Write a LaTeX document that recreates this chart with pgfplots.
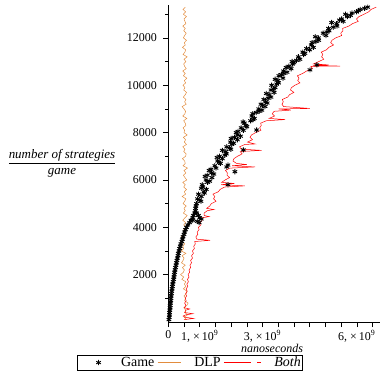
\documentclass[border=0pt]{standalone}
\usepackage{fontspec}
\setmainfont{Liberation Serif}
\usepackage{pgfplots}
\pgfplotsset{compat=1.18}
\definecolor{dlp}{RGB}{226,140,62}
\pgfplotsset{
  gameleg/.style={legend image code/.code={\path[draw=none,fill=none] (0bp,0bp) rectangle (30bp,0.1bp); \path[##1, draw=none] plot[only marks, mark=asterisk, mark options={draw=black, line width=0.9pt}] coordinates {(21bp,0bp)};}},
  dlpleg/.style={legend image code/.code={\draw[##1] (0bp,0bp) -- (23bp,0bp);}},
  bothleg/.style={legend image code/.code={\draw[##1] (0bp,0bp) -- (26.7bp,0bp); \draw[##1] (33.3bp,0bp) -- (36.7bp,0bp);}},
}
\begin{document}
\begin{tikzpicture}
\path[use as bounding box] (0,0) rectangle (381bp,386bp);
\node at (62bp,223bp) {\fontsize{13}{15}\selectfont$\displaystyle\frac{\mbox{\itshape number of strategies}}{\mbox{\itshape game}}$};
\begin{axis}[
  at={(168.3bp,64bp)}, anchor=south west,
  scale only axis, width=211.7bp, height=317bp,
  xmin=0, xmax=6.74, ymin=0, ymax=13390,
  axis x line=bottom, axis y line=left,
  axis line style={-, line width=0.5pt},
  tick align=outside, clip=false,
  tick style={line width=0.5pt, black},
  major tick length=5bp, minor tick length=3bp,
  xtick={0,0.5,1,1.5,2,2.5,3,3.5,4,4.5,5,5.5,6,6.5},
  xticklabels={0,,{1, ×\,10\textsuperscript{9}},,,,{3, ×\,10\textsuperscript{9}},,,,,,{6, ×\,10\textsuperscript{9}},},
  ytick={2000,4000,6000,8000,10000,12000},
  minor ytick={1000,3000,5000,7000,9000,11000,13000},
  scaled y ticks=false,
  /pgf/number format/assume math mode=true,
  /pgf/number format/1000 sep={},
  ticklabel style={font=\fontsize{12}{14}\selectfont},
  yticklabel style={xshift=-3bp},
  xlabel={\itshape nanoseconds},
  xlabel style={at={(axis description cs:0.49,0)}, anchor=base, yshift=-30.5bp, font=\fontsize{12}{14}\selectfont},
  legend columns=3,
  legend style={at={(-0.4299,-0.128)}, anchor=west, draw=black, line width=0.5pt,
    font=\fontsize{14}{16}\selectfont, inner xsep=0bp, inner ysep=0.3bp,
    nodes={inner sep=1.5bp},
    /tikz/every odd column/.append style={column sep=12bp},
    /tikz/every even column/.append style={column sep=1.5bp}},
]
\addplot[only marks, mark=asterisk, mark size=2.6bp, mark options={line width=0.9pt}, black, gameleg]
table {
0.02 100
0.03 200
0.04 300
0.04 400
0.05 500
0.06 600
0.06 700
0.07 800
0.08 900
0.08 1000
0.09 1100
0.10 1200
0.11 1300
0.12 1400
0.13 1500
0.14 1600
0.155 1700
0.17 1800
0.18 1900
0.19 2000
0.20 2100
0.215 2200
0.23 2300
0.245 2400
0.26 2500
0.275 2600
0.29 2700
0.31 2800
0.32 2900
0.34 3000
0.36 3100
0.38 3200
0.40 3300
0.43 3400
0.45 3500
0.47 3600
0.50 3700
0.52 3800
0.55 3900
0.58 4000
0.62 4100
0.68 4200
0.72 4300
0.78 4400
0.80 4500
0.84 4600
0.86 4700
0.87 4800
0.88 4900
0.90 5000
1.04 5100
0.93 5200
1.05 5300
0.96 5400
1.13 5500
1.21 5600
1.10 5700
1.08 5800
1.25 5900
1.20 6000
1.39 6100
1.24 6200
1.38 6300
1.30 6400
1.52 6500
1.48 6600
1.66 6700
1.57 6800
1.72 6900
1.63 7000
1.85 7100
1.83 7200
1.99 7300
1.86 7400
2.02 7500
1.98 7600
2.20 7700
2.11 7800
2.21 7900
2.16 8000
2.39 8100
2.32 8200
2.47 8300
2.42 8400
2.62 8500
2.74 8600
2.66 8700
2.69 8800
2.89 8900
2.88 9000
3.08 9100
2.95 9200
3.10 9300
3.04 9400
3.27 9500
3.21 9600
3.37 9700
3.27 9800
3.40 9900
3.29 10000
3.51 10100
3.49 10200
3.65 10300
3.52 10400
3.68 10500
3.67 10600
3.91 10700
3.84 10800
3.96 10900
3.94 11000
4.19 11100
4.14 11200
4.31 11300
4.28 11400
4.50 11500
4.62 11600
4.55 11700
4.58 11800
4.79 11900
4.78 12000
5.02 12100
4.93 12200
5.12 12300
5.10 12400
5.37 12500
5.36 12600
5.57 12700
5.52 12800
5.70 12900
5.64 13000
5.99 13100
6.11 13200
6.35 13300
1.90 5800
1.86 6550
2.12 6350
1.90 6630
2.81 8110
2.39 7270
4.51 10650
4.73 10860
1.00 5150
1.15 5450
1.05 5650
1.32 5950
1.17 6150
1.45 6250
1.36 6450
1.62 6750
1.55 6950
1.80 7050
1.72 7250
1.95 7350
2.08 7550
2.00 7750
2.30 7850
2.22 8050
2.50 8250
2.38 8450
2.70 8550
2.80 8850
2.98 8950
3.00 9150
3.15 9250
3.18 9450
3.12 9650
3.35 9850
3.45 10050
3.40 10250
3.60 10450
3.78 10550
3.75 10750
4.00 10950
4.08 11050
4.35 11350
4.40 11550
4.70 11850
4.68 12050
5.05 12250
5.25 12450
5.20 12650
5.45 12750
5.80 12950
5.85 13050
6.25 13250
6.05 13150
0.92 4250
1.00 4400
0.96 4500
1.05 4350
0.90 4600
0.98 4200
0.78 4300
};
\addlegendentry{Game}
\addplot[dlp, line width=0.5pt, no marks, dlpleg]
table {
0.58 100
0.51 200
0.61 300
0.53 400
0.56 500
0.49 600
0.59 700
0.63 800
0.52 900
0.55 1000
0.50 1100
0.57 1200
0.60 1300
0.48 1400
0.56 1500
0.51 1600
0.56 1700
0.43 1800
0.49 1900
0.39 2000
0.48 2100
0.51 2200
0.45 2300
0.54 2400
0.42 2500
0.47 2600
0.50 2700
0.44 2800
0.56 2900
0.41 3000
0.49 3100
0.46 3200
0.52 3300
0.43 3400
0.48 3500
0.41 3600
0.53 3700
0.50 3800
0.49 3900
0.58 4000
0.49 4100
0.55 4200
0.46 4300
0.53 4400
0.60 4500
0.48 4600
0.54 4700
0.50 4800
0.57 4900
0.47 5000
0.52 5100
0.56 5200
0.44 5300
0.55 5400
0.51 5500
0.58 5600
0.49 5700
0.54 5800
0.46 5900
0.59 6000
0.53 6100
0.48 6200
0.56 6300
0.50 6400
0.61 6500
0.47 6600
0.54 6700
0.52 6800
0.45 6900
0.55 7000
0.57 7100
0.49 7200
0.53 7300
0.46 7400
0.58 7500
0.51 7600
0.55 7700
0.48 7800
0.60 7900
0.50 8000
0.52 8100
0.47 8200
0.56 8300
0.54 8400
0.49 8500
0.59 8600
0.46 8700
0.53 8800
0.55 8900
0.50 9000
0.44 9100
0.57 9200
0.52 9300
0.56 9400
0.48 9500
0.54 9600
0.58 9700
0.49 9800
0.53 9900
0.47 10000
0.55 10100
0.51 10200
0.59 10300
0.48 10400
0.54 10500
0.46 10600
0.57 10700
0.52 10800
0.49 10900
0.56 11000
0.50 11100
0.60 11200
0.47 11300
0.53 11400
0.55 11500
0.45 11600
0.54 11700
0.51 11800
0.58 11900
0.48 12000
0.52 12100
0.57 12200
0.49 12300
0.54 12400
0.46 12500
0.56 12600
0.53 12700
0.50 12800
0.58 12900
0.48 13000
0.55 13100
0.47 13200
0.54 13300
};
\addlegendentry{DLP}
\addplot[red, line width=0.5pt, no marks, bothleg]
table {
0.50 100
0.80 150
0.54 200
0.47 250
0.55 300
0.78 350
0.52 400
0.56 500
0.68 550
0.51 600
0.56 700
0.52 800
0.57 900
0.54 1000
0.58 1100
0.55 1200
0.60 1300
0.57 1400
0.62 1500
0.59 1600
0.64 1700
0.61 1800
0.66 1900
0.63 2000
0.68 2100
0.66 2200
0.71 2300
0.69 2400
0.74 2500
0.71 2600
0.77 2700
0.74 2800
0.80 2900
0.77 3000
0.83 3100
0.81 3200
0.86 3300
0.84 3400
1.33 3450
0.90 3500
0.88 3600
0.94 3700
0.92 3800
0.98 3900
0.96 4000
1.04 4100
1.02 4200
1.08 4300
1.06 4400
1.30 4450
1.14 4500
1.14 4600
1.24 4700
1.45 4750
1.22 4800
1.32 4900
1.37 5000
1.52 5100
1.44 5200
1.48 5300
1.42 5400
1.59 5500
1.65 5600
1.79 5700
2.44 5750
1.68 5800
2.10 5850
1.70 5900
1.81 6000
1.95 6100
1.87 6200
1.88 6300
1.82 6400
1.96 6500
2.76 6550
2.03 6600
2.50 6650
2.17 6700
2.06 6800
2.09 6900
2.20 7000
2.35 7100
2.29 7200
2.97 7250
2.32 7300
2.27 7400
2.44 7500
2.76 7520
2.52 7600
2.68 7700
2.60 7800
2.65 7900
2.78 8000
2.95 8100
2.91 8200
2.96 8300
2.94 8400
3.12 8500
3.72 8550
3.21 8600
3.38 8700
3.31 8800
3.37 8900
3.90 8950
3.51 9000
4.51 9020
3.67 9100
3.62 9200
3.66 9300
3.63 9400
3.80 9500
3.86 9600
4.00 9700
3.89 9800
3.92 9900
4.03 10000
4.19 10100
4.12 10200
4.16 10300
4.11 10400
4.28 10500
4.40 10600
4.59 10700
4.54 10800
5.47 10810
4.60 10840
5.10 10860
4.62 10900
4.79 11000
4.95 11100
4.88 11200
4.92 11300
4.87 11400
5.04 11500
5.11 11600
5.26 11700
5.17 11800
5.21 11900
5.33 12000
5.52 12100
5.49 12200
5.56 12300
5.55 12400
5.75 12500
5.86 12600
6.05 12700
5.99 12800
6.07 12900
6.23 13000
6.38 13100
6.45 13200
6.62 13300
};
\addlegendentry{\itshape Both\hspace{8bp}}
\end{axis}
\end{tikzpicture}
\end{document}
